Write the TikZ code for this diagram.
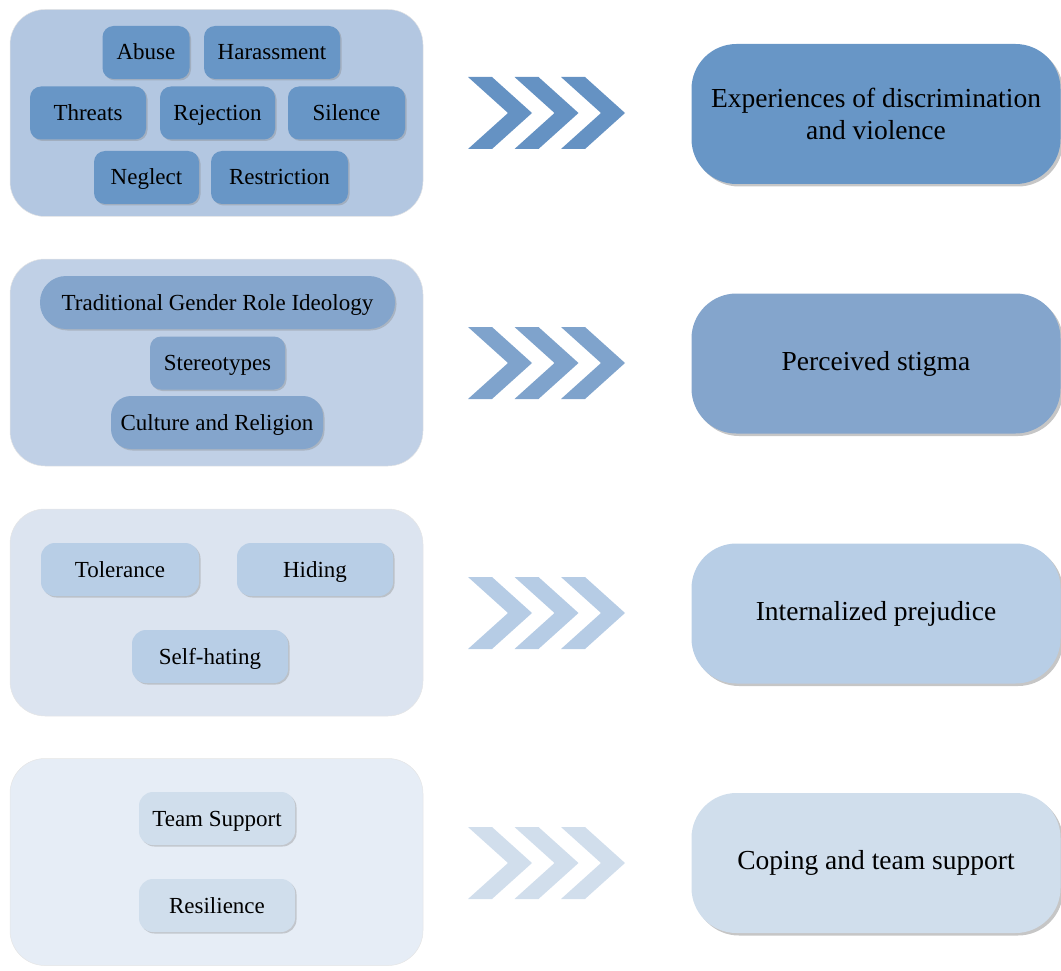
\documentclass[tikz,border=0pt]{standalone}
\usepackage{fontspec}
\setmainfont{Liberation Serif}
\usepackage{tikz}
\usetikzlibrary{shadows}

\definecolor{panA}{HTML}{B3C7E1}
\definecolor{panB}{HTML}{C0D0E6}
\definecolor{panC}{HTML}{DCE4F0}
\definecolor{panD}{HTML}{E6EDF6}
\definecolor{boxA}{HTML}{6896C6}
\definecolor{boxB}{HTML}{84A5CC}
\definecolor{boxC}{HTML}{B8CEE6}
\definecolor{boxD}{HTML}{D0DEEC}
\definecolor{chvA}{HTML}{6592C3}
\definecolor{chvB}{HTML}{7FA3CC}
\definecolor{chvC}{HTML}{B6CCE5}
\definecolor{chvD}{HTML}{D1DEEC}

\tikzset{
    panel/.style={fill=#1, draw=gray!20, line width=0.5pt, rounded corners=35pt,
        minimum width=413pt, minimum height=207pt, inner sep=0pt},
    item/.style={fill=#1, rounded corners=11pt, minimum height=53pt, inner sep=0pt,
        text height=19pt, text depth=4pt,
        font=\fontsize{23}{26}\selectfont,
        drop shadow={shadow xshift=1.5pt, shadow yshift=-1.5pt, opacity=0.35, fill=gray}},
    result/.style={fill=#1, rounded corners=45pt, minimum width=369pt, minimum height=140pt,
        inner sep=0pt, align=center, font=\fontsize{27.5}{32}\selectfont,
        drop shadow={shadow xshift=2.5pt, shadow yshift=-2.5pt, opacity=0.45, fill=gray}}
}

\begin{document}
\begin{tikzpicture}[x=1pt,y=-1pt]

        \useasboundingbox (0,0) rectangle (1061,971);

        % left panels
        \node[panel=panA] (grpA) at (216.5,113) {};
        \node[panel=panB] (grpB) at (216.5,362.5) {};
        \node[panel=panC] (grpC) at (216.5,612.5) {};
        \node[panel=panD] (grpD) at (216.5,862) {};

        % experiences
        \node[item=boxA, minimum width=87pt] (abu) at (146,52.5) {Abuse};
        \node[item=boxA, minimum width=136pt] (har) at (272,52.5) {Harassment};
        \node[item=boxA, minimum width=116pt] (thr) at (88,113) {Threats};
        \node[item=boxA, minimum width=115pt] (rej) at (217.5,113) {Rejection};
        \node[item=boxA, minimum width=117pt] (sil) at (346.5,113) {Silence};
        \node[item=boxA, minimum width=105pt] (neg) at (146.5,177.5) {Neglect};
        \node[item=boxA, minimum width=137pt] (res) at (279.5,177.5) {Restriction};

        % stigma
        \node[item=boxB, minimum width=355pt, rounded corners=26pt] (trd) at (217.5,302.5) {Traditional Gender Role Ideology};
        \node[item=boxB, minimum width=135pt] (ste) at (217.5,363) {Stereotypes};
        \node[item=boxB, minimum width=212pt, rounded corners=20pt] (cul) at (217,422.5) {Culture and Religion};

        % prejudice
        \node[item=boxC, minimum width=158pt, rounded corners=14pt] (tol) at (120,569.5) {Tolerance};
        \node[item=boxC, minimum width=156pt, rounded corners=14pt] (hid) at (315,569.5) {Hiding};
        \node[item=boxC, minimum width=156pt, rounded corners=14pt] (slf) at (210,656.5) {Self-hating};

        % coping
        \node[item=boxD, minimum width=156pt, rounded corners=14pt] (tms) at (217,818.5) {Team Support};
        \node[item=boxD, minimum width=156pt, rounded corners=14pt] (rsl) at (217,905.5) {Resilience};

        % chevrons
        \foreach \y\col in {77/chvA,327/chvB,577/chvC,827/chvD}
            \foreach \x in {468,514.5,561}
            { \fill[\col] (\x,\y) -- ++(24,0) -- ++(40,36) -- ++(-40,36) -- ++(-24,0) -- ++(40,-36) -- cycle;}

        % right column
        \node[result=boxA] (expA) at (876,114) {Experiences of discrimination\\and violence};
        \node[result=boxB] (expB) at (876,363.5) {Perceived stigma};
        \node[result=boxC] (expC) at (876,613.5) {Internalized prejudice};
        \node[result=boxD] (expD) at (876,863) {Coping and team support};

    \end{tikzpicture}
\end{document}
